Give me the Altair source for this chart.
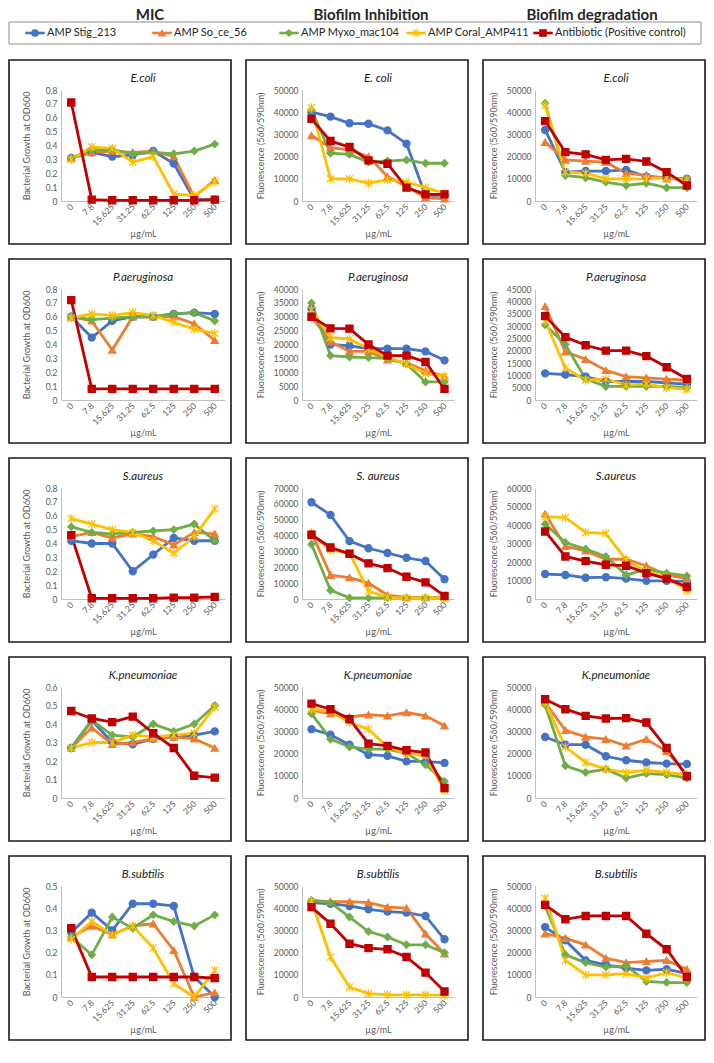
import altair as alt
import pandas as pd

# ---------------- categories / labels ----------------
CONC = ["0", "7.8", "15.625", "31.25", "62.5", "125", "250", "500"]
SERIES = ["AMP Stig_213", "AMP So_ce_56", "AMP Myxo_mac104", "AMP Coral_AMP411",
          "Antibiotic (Positive control)"]
COLUMNS = ["MIC", "Biofilm Inhibition", "Biofilm degradation"]
ROW_TITLES = [["E.coli", "E. coli", "E.coli"],
              ["P.aeruginosa", "P.aeruginosa", "P.aeruginosa"],
              ["S.aureus", "S. aureus", "S.aureus"],
              ["K.pneumoniae", "K.pneumoniae", "K.pneumoniae"],
              ["B.subtilis", "B.subtilis", "B.subtilis"]]
MIC_YTITLE = "Bacterial Growth at OD600"
FLU_YTITLES = ["Fluorescence  (560/590nm)", "Fluorescence (560/590nm)", "Fluorescence (560/590nm)",
               "Fluorescence (560/590nm)", "Fluorescence (560/590nm)"]
MIC_MAX = [0.8, 0.8, 0.8, 0.6, 0.5]
MIC_STEP = [0.1, 0.1, 0.1, 0.1, 0.1]
BI_MAX = [50000, 40000, 70000, 50000, 50000]
BI_STEP = [10000, 5000, 10000, 10000, 10000]
BD_MAX = [50000, 45000, 60000, 50000, 50000]
BD_STEP = [10000, 5000, 10000, 10000, 10000]

# ---------------- values ----------------
# E. coli
ECOLI_MIC_STIG = [0.31, 0.35, 0.32, 0.33, 0.36, 0.27, 0.01, 0.01]
ECOLI_MIC_SOCE = [0.31, 0.35, 0.36, 0.35, 0.36, 0.32, 0.03, 0.15]
ECOLI_MIC_MYXO = [0.31, 0.37, 0.37, 0.34, 0.35, 0.34, 0.36, 0.41]
ECOLI_MIC_CORAL = [0.30, 0.39, 0.38, 0.28, 0.32, 0.05, 0.04, 0.14]
ECOLI_MIC_ANTI = [0.71, 0.01, 0.005, 0.005, 0.005, 0.005, 0.005, 0.01]
ECOLI_BI_STIG = [40000, 38000, 35000, 34800, 31800, 25800, 2500, 2500]
ECOLI_BI_SOCE = [29500, 24000, 23000, 20000, 11000, 6500, 1500, 1000]
ECOLI_BI_MYXO = [41000, 21500, 21000, 17500, 18000, 18500, 17000, 17000]
ECOLI_BI_CORAL = [42000, 10000, 10000, 8000, 9500, 8500, 6000, 3500]
ECOLI_BI_ANTI = [37000, 27000, 24300, 18300, 16800, 6000, 3000, 3000]
ECOLI_BD_STIG = [32000, 13000, 13500, 13500, 14000, 11000, 10500, 10000]
ECOLI_BD_SOCE = [26500, 18500, 18000, 17500, 12500, 11500, 10000, 10000]
ECOLI_BD_MYXO = [44000, 11500, 10500, 8500, 7000, 8000, 6000, 6000]
ECOLI_BD_CORAL = [43000, 13000, 12500, 10000, 10000, 10000, 10500, 9500]
ECOLI_BD_ANTI = [36000, 22000, 21000, 18500, 19000, 17800, 13000, 7000]
# P. aeruginosa
PAER_MIC_STIG = [0.60, 0.45, 0.57, 0.60, 0.60, 0.62, 0.63, 0.62]
PAER_MIC_SOCE = [0.60, 0.57, 0.36, 0.60, 0.60, 0.60, 0.55, 0.43]
PAER_MIC_MYXO = [0.60, 0.58, 0.59, 0.60, 0.60, 0.62, 0.63, 0.57]
PAER_MIC_CORAL = [0.59, 0.62, 0.61, 0.63, 0.61, 0.56, 0.51, 0.48]
PAER_MIC_ANTI = [0.72, 0.08, 0.08, 0.08, 0.08, 0.08, 0.08, 0.08]
PAER_BI_STIG = [33000, 20000, 19500, 18500, 18500, 18500, 17500, 14300]
PAER_BI_SOCE = [30000, 21000, 17500, 17500, 14500, 13500, 10500, 8500]
PAER_BI_MYXO = [35000, 16000, 15500, 15300, 15000, 13000, 6500, 6500]
PAER_BI_CORAL = [32500, 22500, 22000, 18500, 15500, 13000, 9500, 8500]
PAER_BI_ANTI = [30000, 25800, 25700, 20000, 16000, 16000, 13700, 4000]
PAER_BD_STIG = [10800, 10300, 9500, 7500, 7500, 7500, 7000, 6300]
PAER_BD_SOCE = [38000, 19500, 16500, 12000, 9500, 9000, 8500, 8000]
PAER_BD_MYXO = [30500, 22500, 8500, 5500, 5500, 5500, 5500, 5000]
PAER_BD_CORAL = [32000, 13000, 8000, 8500, 6000, 6500, 5000, 4300]
PAER_BD_ANTI = [34000, 25500, 22200, 20000, 20000, 17800, 13300, 8500]
# S. aureus
SAUR_MIC_STIG = [0.42, 0.40, 0.40, 0.20, 0.32, 0.44, 0.42, 0.42]
SAUR_MIC_SOCE = [0.45, 0.48, 0.44, 0.47, 0.45, 0.39, 0.48, 0.47]
SAUR_MIC_MYXO = [0.52, 0.48, 0.47, 0.48, 0.49, 0.50, 0.54, 0.42]
SAUR_MIC_CORAL = [0.58, 0.54, 0.50, 0.48, 0.42, 0.33, 0.45, 0.65]
SAUR_MIC_ANTI = [0.46, 0.005, 0.005, 0.005, 0.005, 0.01, 0.01, 0.015]
SAUR_BI_STIG = [61000, 53000, 36500, 32000, 29000, 26000, 24000, 12500]
SAUR_BI_SOCE = [42000, 15000, 13500, 10000, 2500, 1000, 1000, 1000]
SAUR_BI_MYXO = [34500, 5500, 700, 700, 700, 700, 700, 700]
SAUR_BI_CORAL = [41000, 31000, 29000, 5000, 1000, 700, 700, 700]
SAUR_BI_ANTI = [40500, 32500, 28500, 22500, 19500, 14000, 10500, 2000]
SAUR_BD_STIG = [13500, 13000, 11500, 11800, 11000, 9800, 9800, 9500]
SAUR_BD_SOCE = [46000, 28500, 26000, 21500, 21500, 18000, 13000, 11000]
SAUR_BD_MYXO = [40500, 30500, 27000, 23000, 13000, 16000, 14000, 12500]
SAUR_BD_CORAL = [44500, 44000, 36000, 35500, 21000, 15000, 12000, 4500]
SAUR_BD_ANTI = [36500, 23000, 20500, 18500, 18000, 14000, 11000, 6500]
# K. pneumoniae
KPNE_MIC_STIG = [0.27, 0.42, 0.30, 0.29, 0.32, 0.33, 0.34, 0.36]
KPNE_MIC_SOCE = [0.27, 0.38, 0.29, 0.30, 0.32, 0.33, 0.32, 0.27]
KPNE_MIC_MYXO = [0.27, 0.42, 0.34, 0.33, 0.40, 0.36, 0.40, 0.50]
KPNE_MIC_CORAL = [0.27, 0.30, 0.30, 0.34, 0.33, 0.34, 0.35, 0.49]
KPNE_MIC_ANTI = [0.47, 0.43, 0.41, 0.44, 0.35, 0.27, 0.12, 0.11]
KPNE_BI_STIG = [31000, 28500, 24000, 19500, 19000, 16500, 16500, 15800]
KPNE_BI_SOCE = [39500, 38000, 36500, 37500, 37000, 38500, 37000, 32500]
KPNE_BI_MYXO = [38000, 26500, 23000, 22000, 22000, 20000, 15000, 7500]
KPNE_BI_CORAL = [40000, 39000, 34000, 31000, 23000, 20000, 19000, 3500]
KPNE_BI_ANTI = [42500, 40000, 35500, 24500, 23500, 21500, 20500, 4500]
KPNE_BD_STIG = [27500, 24000, 24000, 18800, 17000, 16000, 15500, 15300]
KPNE_BD_SOCE = [43000, 30500, 27500, 26500, 23500, 26500, 21000, 10500]
KPNE_BD_MYXO = [42000, 14500, 11500, 13000, 9000, 11000, 10500, 9000]
KPNE_BD_CORAL = [43000, 23000, 16000, 13000, 11500, 12500, 11500, 10500]
KPNE_BD_ANTI = [44500, 40000, 37000, 35800, 36000, 34000, 22500, 9800]
# B. subtilis
BSUB_MIC_STIG = [0.29, 0.38, 0.30, 0.42, 0.42, 0.41, 0.09, 0.00]
BSUB_MIC_SOCE = [0.27, 0.32, 0.28, 0.32, 0.33, 0.21, 0.00, 0.02]
BSUB_MIC_MYXO = [0.27, 0.19, 0.36, 0.31, 0.37, 0.34, 0.32, 0.37]
BSUB_MIC_CORAL = [0.26, 0.34, 0.28, 0.32, 0.22, 0.06, 0.00, 0.12]
BSUB_MIC_ANTI = [0.31, 0.09, 0.09, 0.09, 0.09, 0.09, 0.09, 0.085]
BSUB_BI_STIG = [42500, 42000, 41000, 39500, 38500, 38000, 36500, 26000]
BSUB_BI_SOCE = [43500, 43000, 43000, 42500, 40500, 40000, 28500, 19500]
BSUB_BI_MYXO = [43500, 42500, 36000, 29500, 27000, 23500, 23500, 20000]
BSUB_BI_CORAL = [43000, 18000, 4500, 1500, 1000, 1000, 1000, 800]
BSUB_BI_ANTI = [40500, 33000, 24000, 22000, 21500, 18000, 11000, 2500]
BSUB_BD_STIG = [31500, 25500, 16500, 14500, 13000, 12000, 12500, 10500]
BSUB_BD_SOCE = [28500, 26500, 23500, 17500, 15500, 16000, 16500, 12500]
BSUB_BD_MYXO = [41000, 19000, 15500, 13500, 14000, 7000, 6500, 6500]
BSUB_BD_CORAL = [44500, 16500, 10000, 10000, 10500, 8500, 11000, 8500]
BSUB_BD_ANTI = [41500, 35000, 36500, 36500, 36500, 28500, 21500, 9000]

PANELS = [
    [[ECOLI_MIC_STIG, ECOLI_MIC_SOCE, ECOLI_MIC_MYXO, ECOLI_MIC_CORAL, ECOLI_MIC_ANTI],
     [ECOLI_BI_STIG, ECOLI_BI_SOCE, ECOLI_BI_MYXO, ECOLI_BI_CORAL, ECOLI_BI_ANTI],
     [ECOLI_BD_STIG, ECOLI_BD_SOCE, ECOLI_BD_MYXO, ECOLI_BD_CORAL, ECOLI_BD_ANTI]],
    [[PAER_MIC_STIG, PAER_MIC_SOCE, PAER_MIC_MYXO, PAER_MIC_CORAL, PAER_MIC_ANTI],
     [PAER_BI_STIG, PAER_BI_SOCE, PAER_BI_MYXO, PAER_BI_CORAL, PAER_BI_ANTI],
     [PAER_BD_STIG, PAER_BD_SOCE, PAER_BD_MYXO, PAER_BD_CORAL, PAER_BD_ANTI]],
    [[SAUR_MIC_STIG, SAUR_MIC_SOCE, SAUR_MIC_MYXO, SAUR_MIC_CORAL, SAUR_MIC_ANTI],
     [SAUR_BI_STIG, SAUR_BI_SOCE, SAUR_BI_MYXO, SAUR_BI_CORAL, SAUR_BI_ANTI],
     [SAUR_BD_STIG, SAUR_BD_SOCE, SAUR_BD_MYXO, SAUR_BD_CORAL, SAUR_BD_ANTI]],
    [[KPNE_MIC_STIG, KPNE_MIC_SOCE, KPNE_MIC_MYXO, KPNE_MIC_CORAL, KPNE_MIC_ANTI],
     [KPNE_BI_STIG, KPNE_BI_SOCE, KPNE_BI_MYXO, KPNE_BI_CORAL, KPNE_BI_ANTI],
     [KPNE_BD_STIG, KPNE_BD_SOCE, KPNE_BD_MYXO, KPNE_BD_CORAL, KPNE_BD_ANTI]],
    [[BSUB_MIC_STIG, BSUB_MIC_SOCE, BSUB_MIC_MYXO, BSUB_MIC_CORAL, BSUB_MIC_ANTI],
     [BSUB_BI_STIG, BSUB_BI_SOCE, BSUB_BI_MYXO, BSUB_BI_CORAL, BSUB_BI_ANTI],
     [BSUB_BD_STIG, BSUB_BD_SOCE, BSUB_BD_MYXO, BSUB_BD_CORAL, BSUB_BD_ANTI]],
]

# ---------------- styles ----------------
COLORS = ["#4472C4", "#ED7D31", "#70AD47", "#FFC000", "#C00000"]
STAR = "M-1,-1L1,1M-1,1L1,-1M0,-1.25L0,1.25"
SHAPES = ["circle", "triangle-up", "diamond", STAR, "square"]
FONT = "Lato"

W, H = 222, 184          # outer box of each panel
T, B = 30, 43            # space above / below plot area inside box
LEFT = [52, 56, 52]
RIGHT = [6, 14, 8]
YTITLE_PAD = [14, 8, 8]
GAP = 13

color_scale = alt.Scale(domain=SERIES, range=COLORS)
shape_scale = alt.Scale(domain=SERIES, range=SHAPES)


def make_panel(r, c):
    series_vals = PANELS[r][c]
    rows = []
    for s, vals in zip(SERIES, series_vals):
        for i, (conc, v) in enumerate(zip(CONC, vals)):
            rows.append({"series": s, "conc": conc, "i": i, "value": v})
    df = pd.DataFrame(rows)

    if c == 0:
        ymax, step, ytitle = MIC_MAX[r], MIC_STEP[r], MIC_YTITLE
        label_expr = "datum.value == 0 ? '0' : format(datum.value, '.1f')"
    elif c == 1:
        ymax, step, ytitle = BI_MAX[r], BI_STEP[r], FLU_YTITLES[r]
        label_expr = "format(datum.value, 'd')"
    else:
        ymax, step, ytitle = BD_MAX[r], BD_STEP[r], FLU_YTITLES[r]
        label_expr = "format(datum.value, 'd')"
    n = int(round(ymax / step))
    ticks = [round(k * step, 6) for k in range(n + 1)]

    L, R = LEFT[c], RIGHT[c]
    w = W - L - R
    h = H - T - B

    x = alt.X("conc:N", sort=CONC,
              scale=alt.Scale(type="point", domain=CONC, padding=0.5),
              axis=alt.Axis(title="µg/mL", labelAngle=-45, labelAlign="right",
                            labelBaseline="middle", labelPadding=4, titlePadding=2))
    y = alt.Y("value:Q", scale=alt.Scale(domain=[0, ymax], nice=False, zero=True),
              axis=alt.Axis(title=ytitle, values=ticks, labelExpr=label_expr,
                            labelPadding=4, titlePadding=YTITLE_PAD[c]))

    base = alt.Chart(df)
    lines = base.mark_line(strokeWidth=2.8).encode(
        x=x, y=y,
        color=alt.Color("series:N", scale=color_scale, legend=None),
        order=alt.Order("i:Q"),
    )
    points = base.mark_point(filled=True, opacity=1, strokeWidth=1.3, size=50).encode(
        x=x, y=y,
        color=alt.Color("series:N", scale=color_scale, legend=None),
        stroke=alt.Stroke("series:N", scale=color_scale, legend=None),
        shape=alt.Shape("series:N", scale=shape_scale, legend=None),
    )
    border = alt.Chart(alt.Data(values=[{"b": 1}])).mark_rect(
        filled=False, stroke="#1a1a1a", strokeWidth=1.6
    ).encode(
        x=alt.value(-L), x2=alt.value(w + R),
        y=alt.value(-T), y2=alt.value(h + B),
    )
    return alt.layer(lines, points, border).properties(
        width=w, height=h,
        title=alt.TitleParams(text=ROW_TITLES[r][c], fontSize=11.5, fontStyle="italic",
                              fontWeight="normal", color="#1a1a1a", font=FONT,
                              anchor="middle", offset=-25),
    )


# ---------------- header row (column titles + legend) ----------------
# It mirrors the first panel's geometry so that the grid aligns it with the rows.
X0 = LEFT[0]                       # left extent shared with the first panel
ROW_RIGHT = 3 * W + 2 * GAP - X0   # right edge of a row, relative to that origin
HDR_W = W - LEFT[0] - RIGHT[0]
HDR_H = 8
LEG_TOP, LEG_BOT = -16, 6
LEG_Y = (LEG_TOP + LEG_BOT) / 2

headers = alt.Chart(pd.DataFrame({"col": COLUMNS})).mark_text(
    fontSize=15, fontWeight="bold", baseline="top", color="#262626", font=FONT
).encode(
    x=alt.X("col:N", sort=COLUMNS,
            scale=alt.Scale(type="point", domain=COLUMNS,
                            range=[141 - X0, 583 - X0], padding=0),
            axis=None),
    y=alt.value(-T),
    text="col:N",
)

leg_base = alt.Chart(pd.DataFrame({"name": SERIES}))
leg_x = alt.X("name:N", sort=SERIES,
              scale=alt.Scale(type="point", domain=SERIES, range=[26 - X0, 534 - X0], padding=0),
              axis=None)
leg_lines = leg_base.mark_point(shape="stroke", filled=False, size=380, strokeWidth=2.6,
                                opacity=1).encode(
    x=leg_x, y=alt.value(LEG_Y),
    color=alt.Color("name:N", scale=color_scale, legend=None),
)
leg_pts = leg_base.mark_point(filled=True, opacity=1, strokeWidth=1.2, size=42).encode(
    x=leg_x, y=alt.value(LEG_Y),
    color=alt.Color("name:N", scale=color_scale, legend=None),
    stroke=alt.Stroke("name:N", scale=color_scale, legend=None),
    shape=alt.Shape("name:N", scale=shape_scale, legend=None),
)
leg_text = leg_base.mark_text(align="left", baseline="middle", fontSize=11, color="#262626",
                              font=FONT, dx=12).encode(
    x=leg_x, y=alt.value(LEG_Y), text="name:N",
)
leg_box = alt.Chart(alt.Data(values=[{"b": 1}])).mark_rect(
    filled=False, stroke="#8c8c8c", strokeWidth=1
).encode(x=alt.value(-X0), x2=alt.value(ROW_RIGHT), y=alt.value(LEG_TOP), y2=alt.value(LEG_BOT))

header = alt.layer(leg_box, leg_lines, leg_pts, leg_text, headers).resolve_scale(
    x="independent"
).properties(width=HDR_W, height=HDR_H)

rows = [alt.hconcat(*[make_panel(r, c) for c in range(3)], spacing=GAP) for r in range(5)]

chart = alt.vconcat(header, *rows, spacing=GAP).properties(
    padding=0, background="white"
).configure(font=FONT).configure_view(stroke=None).configure_axis(
    labelFont=FONT, titleFont=FONT, labelFontSize=8.5, titleFontSize=9,
    labelColor="#595959", titleColor="#595959", titleFontWeight="normal",
    domainColor="#bfbfbf", domainWidth=1, ticks=False, grid=False,
)

chart.save("out.html", embed_options={"renderer": "svg", "actions": False})
